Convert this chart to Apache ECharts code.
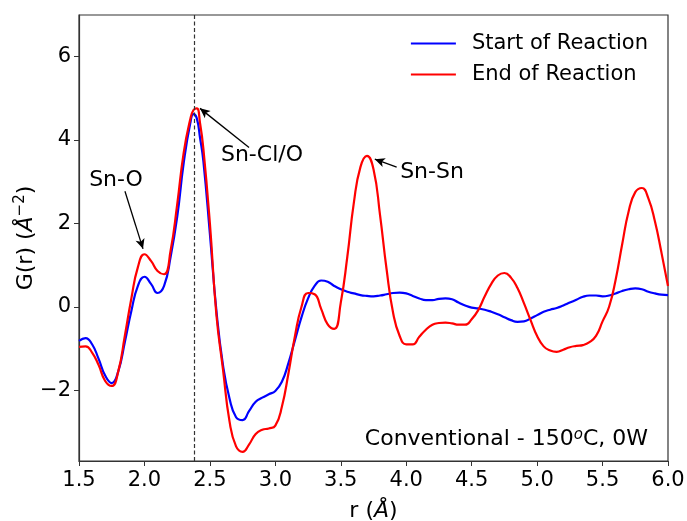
<!DOCTYPE html>
<html>
<head>
<meta charset="utf-8">
<script src="https://cdn.jsdelivr.net/npm/echarts@6/dist/echarts.min.js"></script>
<style>
  html, body { margin: 0; padding: 0; background: #fff; }
  #main { width: 687px; height: 521px; }
</style>
</head>
<body>
<div id="main"></div>
<script>
// r values (Å)
var rValues = [1.50, 1.55, 1.60, 1.65, 1.70, 1.75, 1.80, 1.85, 1.90, 1.95,
  2.00, 2.05, 2.10, 2.15, 2.20, 2.25, 2.30, 2.35, 2.375, 2.40, 2.425, 2.45,
  2.50, 2.55, 2.60, 2.65, 2.70, 2.75, 2.80, 2.85, 2.90, 2.95,
  3.00, 3.05, 3.10, 3.15, 3.20, 3.25, 3.30, 3.35, 3.40, 3.45,
  3.50, 3.55, 3.60, 3.65, 3.70, 3.75, 3.80, 3.85, 3.90, 3.95,
  4.00, 4.05, 4.10, 4.15, 4.20, 4.25, 4.30, 4.35, 4.40, 4.45,
  4.50, 4.55, 4.60, 4.65, 4.70, 4.75, 4.80, 4.85, 4.90, 4.95,
  5.00, 5.05, 5.10, 5.15, 5.20, 5.25, 5.30, 5.35, 5.40, 5.45,
  5.50, 5.55, 5.60, 5.65, 5.70, 5.75, 5.80, 5.85, 5.90, 5.95, 6.00];

var startG = [-0.82, -0.75, -0.90, -1.25, -1.65, -1.83, -1.55, -0.85, -0.10, 0.50,
  0.72, 0.55, 0.33, 0.50, 1.20, 2.15, 3.45, 4.40, 4.62, 4.52, 4.05, 3.50,
  1.75, -0.10, -1.40, -2.20, -2.65, -2.72, -2.50, -2.28, -2.18, -2.10,
  -2.02, -1.80, -1.35, -0.80, -0.25, 0.20, 0.50, 0.63, 0.60, 0.50,
  0.42, 0.36, 0.32, 0.28, 0.26, 0.25, 0.27, 0.30, 0.33, 0.34,
  0.32, 0.26, 0.20, 0.16, 0.16, 0.19, 0.20, 0.18, 0.10, 0.03,
  -0.02, -0.04, -0.07, -0.12, -0.18, -0.25, -0.32, -0.36, -0.35, -0.28,
  -0.20, -0.12, -0.07, -0.03, 0.03, 0.10, 0.17, 0.24, 0.27, 0.27,
  0.25, 0.27, 0.32, 0.38, 0.42, 0.44, 0.42, 0.36, 0.32, 0.29, 0.28];

var endG = [-0.96, -0.95, -1.10, -1.40, -1.78, -1.90, -1.55, -0.70, 0.20, 0.95,
  1.26, 1.10, 0.86, 0.78, 1.35, 2.45, 3.70, 4.50, 4.72, 4.76, 4.40, 3.80,
  2.00, -0.20, -1.50, -2.75, -3.35, -3.48, -3.30, -3.05, -2.95, -2.92,
  -2.85, -2.40, -1.60, -0.70, 0.00, 0.33, 0.30, -0.05, -0.42, -0.53,
  0.10, 1.20, 2.50, 3.35, 3.62, 3.30, 2.20, 0.90, -0.15, -0.70,
  -0.90, -0.90, -0.72, -0.55, -0.43, -0.39, -0.38, -0.40, -0.43, -0.43,
  -0.30, -0.08, 0.25, 0.55, 0.75, 0.81, 0.70, 0.45, 0.08, -0.32,
  -0.70, -0.95, -1.05, -1.08, -1.03, -0.97, -0.94, -0.92, -0.85, -0.70,
  -0.35, 0.00, 0.65, 1.50, 2.30, 2.75, 2.85, 2.60, 2.05, 1.30, 0.50];

var xTicks = [1.5, 2.0, 2.5, 3.0, 3.5, 4.0, 4.5, 5.0, 5.5, 6.0];
var yTicks = [-2, 0, 2, 4, 6];

// peak labels: text, text position, arrow tail, arrow head (data coords)
var peakNames = ['Sn-O', 'Sn-Cl/O', 'Sn-Sn'];
var peakTextAt = [[1.783, 3.03], [2.898, 3.63], [4.197, 3.23]];
var arrowFrom = [[1.851, 2.77], [2.799, 3.82], [3.927, 3.35]];
var arrowTo = [[1.989, 1.39], [2.424, 4.76], [3.76, 3.54]];
var markerR = 2.38;

var FONT = 'DejaVu Sans';

function pairs(ys) {
  return rValues.map(function (r, i) { return [r, ys[i]]; });
}

var arrowLines = arrowFrom.map(function (p, i) {
  return [
    { coord: p, symbol: 'none' },
    { coord: arrowTo[i], symbol: 'arrow', symbolSize: [7, 10] }
  ];
});
var peakLabels = peakNames.map(function (name, i) {
  return {
    coord: peakTextAt[i], symbol: 'circle', symbolSize: 0,
    label: { show: true, position: 'inside', formatter: name,
      fontFamily: FONT, fontSize: 22, color: '#000' }
  };
});

var myChart = echarts.init(document.getElementById('main'));
myChart.setOption({
  animation: false,
  textStyle: { fontFamily: FONT },
  title: {
    text: 'Conventional - 150{sup|o}C, 0W',
    right: 39, top: 428, padding: 0,
    textStyle: {
      fontFamily: FONT, fontSize: 22, fontWeight: 'normal', color: '#000',
      rich: {
        sup: { fontFamily: FONT, fontSize: 15, fontStyle: 'italic', verticalAlign: 'top', lineHeight: 22, color: '#000' }
      }
    }
  },
  legend: {
    orient: 'vertical', right: 39, top: 33, padding: 0,
    itemWidth: 45, itemHeight: 2, itemGap: 10, icon: 'rect',
    textStyle: { fontFamily: FONT, fontSize: 21, color: '#000', padding: [0, 0, 0, 11] },
    data: ['Start of Reaction', 'End of Reaction']
  },
  grid: {
    left: 79, right: 19, top: 15, bottom: 60,
    containLabel: false, outerBoundsMode: 'none',
    show: true, borderColor: '#333', borderWidth: 1.2, backgroundColor: 'transparent'
  },
  xAxis: {
    type: 'value', min: 1.5, max: 6.0, interval: 0.5,
    name: 'r ({i|Å})', nameLocation: 'middle', nameGap: 39, nameMoveOverlap: false,
    nameTextStyle: {
      fontFamily: FONT, fontSize: 22, color: '#000',
      rich: { i: { fontFamily: FONT, fontSize: 22, fontStyle: 'italic', color: '#000' } }
    },
    axisLine: { show: true, onZero: false, lineStyle: { color: '#333', width: 1.2 } },
    axisTick: { show: true, length: 5, lineStyle: { color: '#333' }, customValues: xTicks },
    axisLabel: { margin: 9, fontFamily: FONT, fontSize: 21, color: '#000', customValues: xTicks,
      formatter: function (v) { return v.toFixed(1); } },
    splitLine: { show: false }
  },
  yAxis: {
    type: 'value', min: -3.7, max: 7,
    name: 'G(r) ({i|Å}{sup|−2})', nameLocation: 'middle', nameGap: 40, nameRotate: 90,
    nameMoveOverlap: false,
    nameTextStyle: {
      fontFamily: FONT, fontSize: 22, color: '#000', lineHeight: 26,
      rich: {
        i: { fontFamily: FONT, fontSize: 22, fontStyle: 'italic', color: '#000', lineHeight: 26 },
        sup: { fontFamily: FONT, fontSize: 15, color: '#000', verticalAlign: 'top', lineHeight: 26 }
      }
    },
    axisLine: { show: true, onZero: false, lineStyle: { color: '#333', width: 1.2 } },
    axisTick: { show: true, length: 5, lineStyle: { color: '#333' }, customValues: yTicks },
    axisLabel: { margin: 8, fontFamily: FONT, fontSize: 21, color: '#000', customValues: yTicks,
      formatter: function (v) { return v < 0 ? '\u2212' + Math.abs(v) : String(v); } },
    splitLine: { show: false }
  },
  series: [
    {
      name: 'Start of Reaction', type: 'line', data: pairs(startG),
      smooth: 0.5, showSymbol: false, symbol: 'none',
      color: '#0000ff', lineStyle: { color: '#0000ff', width: 2.2 }
    },
    {
      name: 'End of Reaction', type: 'line', data: pairs(endG),
      smooth: 0.5, showSymbol: false, symbol: 'none',
      color: '#ff0000', lineStyle: { color: '#ff0000', width: 2.2 },
      markLine: {
        silent: true, animation: false,
        label: { show: false },
        emphasis: { disabled: true },
        lineStyle: { color: '#000', width: 1.3, type: 'solid' },
        data: [[
          { coord: [markerR, -3.7], symbol: 'none', lineStyle: { color: '#333', width: 1.2, type: [4, 2.5] } },
          { coord: [markerR, 7], symbol: 'none' }
        ]].concat(arrowLines)
      },
      markPoint: {
        silent: true, animation: false,
        data: peakLabels
      }
    }
  ]
});
</script>
</body>
</html>
